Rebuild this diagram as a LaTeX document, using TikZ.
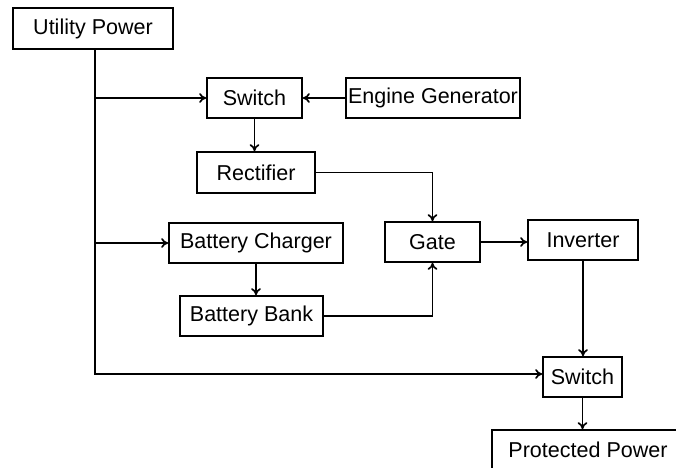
\documentclass[tikz,border=0pt]{standalone}
\usepackage{fontspec}
\setmainfont{Liberation Sans}
\usetikzlibrary{arrows.meta}

\begin{document}
\begin{tikzpicture}[x=0.025cm,y=-0.025cm,>={To[length=5pt,width=7pt]},line width=1.2pt,
  font=\fontsize{15.3}{17}\selectfont,
  blk/.style={draw,rectangle,inner sep=0pt,align=center}]
  \clip (0,0) rectangle (676,467);
  % boxes
  \node[blk,minimum width=160*0.025cm,minimum height=41*0.025cm] (util) at (93,28.5) {Utility Power};
  \node[blk,minimum width=95*0.025cm,minimum height=40*0.025cm] (sw1) at (254.5,98) {Switch};
  \node[blk,minimum width=174*0.025cm,minimum height=40*0.025cm] (gen) at (433,98) {Engine Generator};
  \node[blk,minimum width=118*0.025cm,minimum height=41*0.025cm] (rect) at (256,172.5) {Rectifier};
  \node[blk,minimum width=174*0.025cm,minimum height=40*0.025cm] (chg) at (256,243) {Battery Charger};
  \node[blk,minimum width=143*0.025cm,minimum height=40*0.025cm] (bank) at (251.5,316) {Battery Bank};
  \node[blk,minimum width=95*0.025cm,minimum height=40*0.025cm] (gate) at (432.5,242) {Gate};
  \node[blk,minimum width=110*0.025cm,minimum height=40*0.025cm] (inv) at (583,240) {Inverter};
  \node[blk,minimum width=79*0.025cm,minimum height=40*0.025cm] (sw2) at (582.5,377) {Switch};
  \node[blk,minimum width=192*0.025cm,minimum height=40*0.025cm] (prot) at (588,450) {Protected Power};
  % utility trunk and branches
  \coordinate (trunk) at ([xshift=2*0.025cm]util.south);
  \draw[->] (trunk) |- ([yshift=3*0.025cm]sw2.west);
  \draw[->] (trunk |- sw1.west) -- (sw1.west);
  \draw[->] (trunk |- chg.west) -- (chg.west);
  % remaining connectors
  \draw[->] (gen.west) -- (gen.west -| sw1.east);
  \draw[->] (sw1.south) -- (sw1.south |- rect.north);
  \draw[->] (rect.east) -| (gate.north);
  \draw[->] (chg.south) -- (chg.south |- bank.north);
  \draw[->] (bank.east) -| (gate.south);
  \draw[->] (gate.east) -- (gate.east -| inv.west);
  \draw[->] (inv.south) -- (inv.south |- sw2.north);
  \draw[->] (sw2.south) -- (sw2.south |- prot.north);
\end{tikzpicture}
\end{document}
